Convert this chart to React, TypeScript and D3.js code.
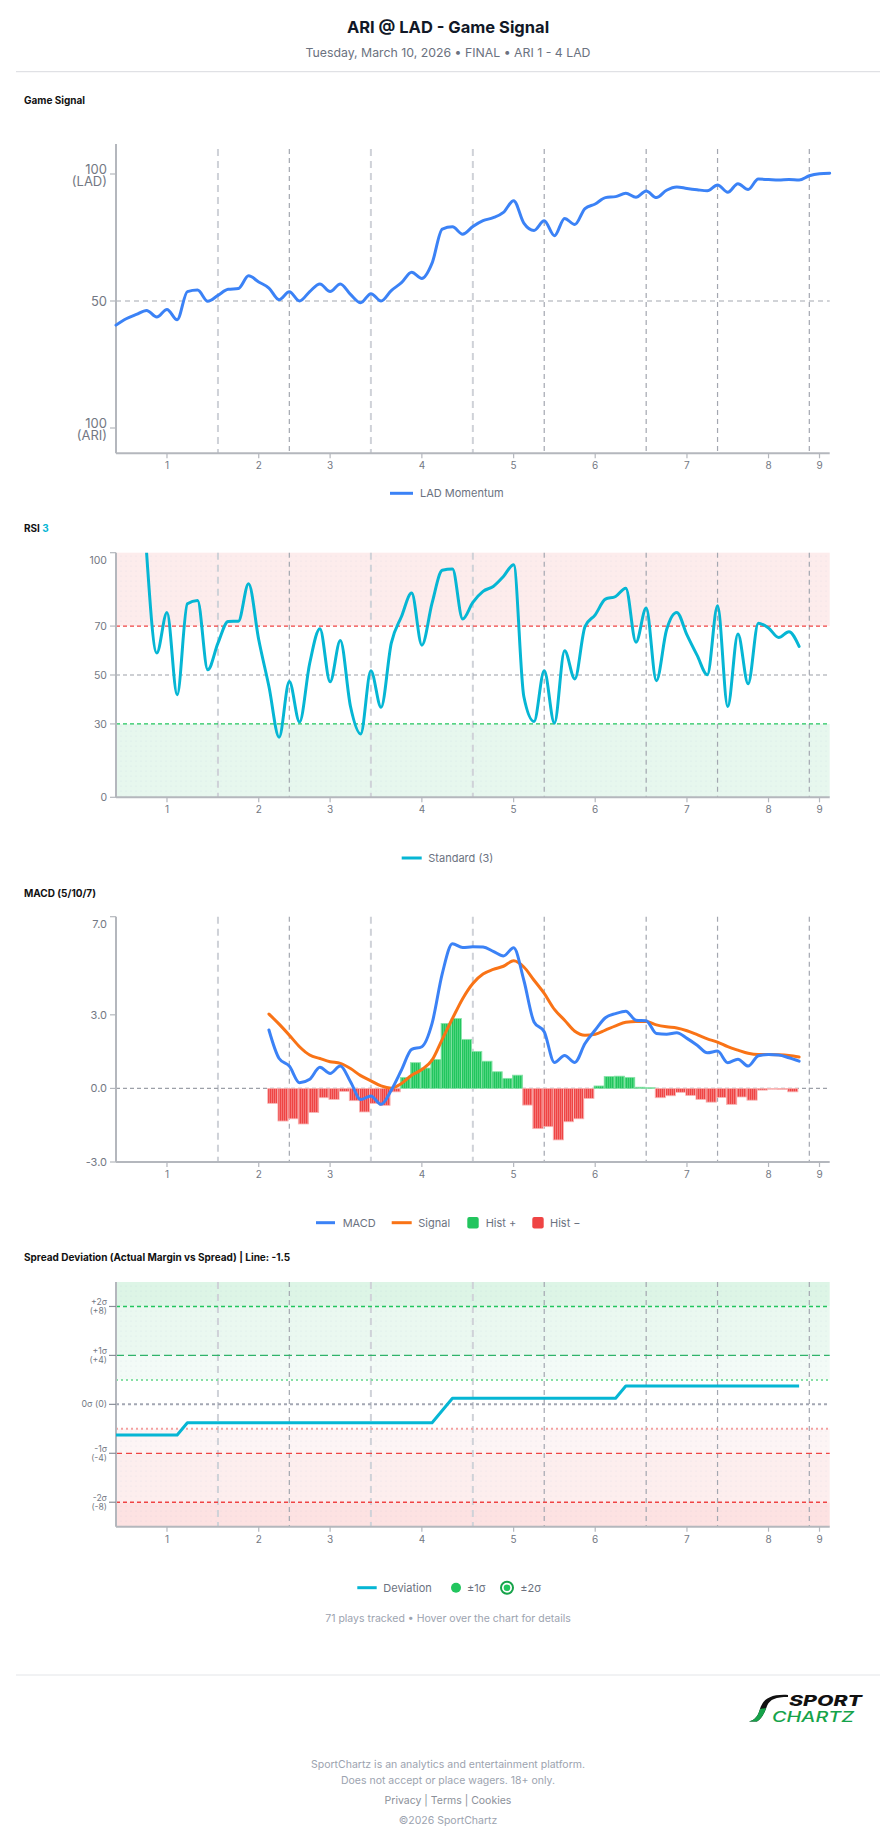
import React from "react";
import * as d3 from "d3";

// ---------- DATA ----------
const playCount = 71;
const inningTicks = [5, 14, 21, 30, 39, 47, 56, 64, 69];
const inningLabels = ["1", "2", "3", "4", "5", "6", "7", "8", "9"];
const inningBreaks = [10, 17, 25, 35, 42, 52, 59, 68];
const lightBreaks = [10, 25, 35];

const momentum = [
  40.5, 43, 44.7, 46.3, 43.7, 46.7, 42.6, 53.7, 54.3, 49.9,
  52.2, 54.6, 54.9, 59.9, 57.5, 55.1, 50.5, 53.6, 50, 53.7,
  56.7, 53.7, 56.7, 52.6, 49.3, 52.9, 50, 54.1, 57.2, 61.3,
  58.9, 64.9, 78.3, 79.2, 76.3, 79.3, 81.6, 82.8, 84.9, 89.5,
  80.7, 77.8, 81.6, 75.7, 82.5, 80.1, 86.4, 88.2, 90.7, 91.1,
  92.4, 90.8, 93.3, 90.7, 93.6, 94.9, 94.3, 93.8, 93.4, 95.7,
  92.8, 96.2, 93.9, 98.0, 97.8, 97.6, 97.8, 97.6, 99.3, 100.1,
  100.3,
];

const rsiStart = 3;
const rsi = [
  100, 59, 75.6, 41.9, 79.1, 80.5, 52.1,
  63, 71.9, 72, 87.3, 64.4, 45.3, 24.6, 47.3, 30.8, 54.8,
  68.9, 47.2, 64.1, 37.1, 25.9, 51.7, 36.8, 63, 73.9, 83.5,
  62.2, 79.4, 92.8, 93.3, 72.9, 79.7, 84.2, 86.2, 90.3, 95.1,
  41.2, 31, 51.7, 30.3, 59.9, 48.4, 69.8, 74.6, 81, 82.1,
  85.5, 63.4, 77.4, 47.7, 68.5, 75.6, 66.4, 58, 50.1, 78.3,
  37.1, 66.8, 46.4, 71.2, 69.2, 65.3, 67.7, 61.7,
];
const rsiTicks = [0, 30, 50, 70, 100];

const macdStart = 15;
const macd = [
  2.38, 1.22, 0.91, 0.23, 0.37,
  0.86, 0.61, 0.91, 0.27, -0.45, -0.31, -0.65, -0.07, 0.75, 1.59,
  1.7, 2.65, 4.68, 5.9, 5.74, 5.77, 5.76, 5.59, 5.4, 5.73,
  4.41, 2.71, 2.31, 1.06, 1.34, 1.06, 1.83, 2.38, 2.88, 3.05,
  3.15, 2.78, 2.76, 2.24, 2.21, 2.27, 2.04, 1.76, 1.45, 1.52,
  1.05, 1.19, 0.91, 1.33, 1.38, 1.36, 1.25, 1.11,
];
const signal = [
  3.03, 2.62, 2.17, 1.7, 1.36,
  1.22, 1.09, 1.02, 0.81, 0.52, 0.31, 0.1, 0.01, 0.2, 0.54,
  0.77, 1.15, 2.0, 2.85, 3.66, 4.28, 4.66, 4.85, 4.98, 5.2,
  4.95, 4.41, 3.87, 3.22, 2.78, 2.33, 2.17, 2.21, 2.38, 2.55,
  2.7, 2.73, 2.73, 2.59, 2.51, 2.46, 2.35, 2.19, 2.02, 1.89,
  1.7, 1.56, 1.43, 1.38, 1.38, 1.37, 1.34, 1.28,
];
const hist = [
  -0.61, -1.33, -1.24, -1.45, -0.98,
  -0.38, -0.45, -0.12, -0.5, -0.96, -0.61, -0.69, -0.14, 0.45, 1.05,
  0.83, 1.18, 2.65, 2.85, 2.0, 1.51, 1.11, 0.68, 0.41, 0.54,
  -0.68, -1.64, -1.56, -2.1, -1.36, -1.24, -0.41, 0.1, 0.49, 0.5,
  0.45, 0.05, 0.03, -0.38, -0.3, -0.16, -0.29, -0.45, -0.56, -0.37,
  -0.65, -0.35, -0.48, -0.07, -0.01, -0.04, -0.14,
];
const macdTicks = [-3, 0, 3, 7];

const deviation = [
  -2.5, -2.5, -2.5, -2.5, -2.5, -2.5, -2.5, -1.5, -1.5, -1.5,
  -1.5, -1.5, -1.5, -1.5, -1.5, -1.5, -1.5, -1.5, -1.5, -1.5,
  -1.5, -1.5, -1.5, -1.5, -1.5, -1.5, -1.5, -1.5, -1.5, -1.5,
  -1.5, -1.5, -0.5, 0.5, 0.5, 0.5, 0.5, 0.5, 0.5, 0.5,
  0.5, 0.5, 0.5, 0.5, 0.5, 0.5, 0.5, 0.5, 0.5, 0.5,
  1.5, 1.5, 1.5, 1.5, 1.5, 1.5, 1.5, 1.5, 1.5, 1.5,
  1.5, 1.5, 1.5, 1.5, 1.5, 1.5, 1.5, 1.5,
];
const sigmaTicks = [8, 4, 0, -4, -8];
const sigmaLabels = [["+2σ", "(+8)"], ["+1σ", "(+4)"], ["0σ (0)"], ["-1σ", "(-4)"], ["-2σ", "(-8)"]];

// ---------- LAYOUT ----------
const W = 896;
const H = 1845;
const L = 116;
const R = 829.7;
const FONT = "Inter, 'Noto Sans', sans-serif";
const AXIS = "#b4b7bd";
const TICK = "#737883";

function Breaks({ x, top, bottom }: any) {
  return (
    <g>
      {inningBreaks.map((b) => {
        const light = lightBreaks.includes(b);
        return (
          <line
            key={b}
            x1={x(b)}
            x2={x(b)}
            y1={top}
            y2={bottom}
            stroke={light ? "#cfd2d8" : "#a3a7b0"}
            strokeWidth={light ? 2 : 1.2}
            strokeDasharray={light ? "7,5" : "5,4"}
          />
        );
      })}
    </g>
  );
}

function XAxis({ x, y }: any) {
  return (
    <g>
      <line x1={L} x2={R} y1={y} y2={y} stroke={AXIS} strokeWidth={2} />
      {inningTicks.map((t, i) => (
        <g key={t}>
          <line x1={x(t)} x2={x(t)} y1={y} y2={y + 5} stroke={AXIS} strokeWidth={1.2} />
          <text x={x(t)} y={y + 16} textAnchor="middle" fontSize={10} fill={TICK} fontFamily={FONT}>
            {inningLabels[i]}
          </text>
        </g>
      ))}
    </g>
  );
}

export default function App() {
  const x = d3.scaleLinear().domain([0, playCount - 1]).range([L, R]);
  const step = x(1) - x(0);

  // Momentum
  const yM = d3.scaleLinear().domain([0, 100]).range([428, 174]);
  const mTop = 144, mBot = 453.3;
  const momLine = d3.line<number>().x((_, i) => x(i)).y((d) => yM(d)).curve(d3.curveMonotoneX);

  // RSI
  const yR = d3.scaleLinear().domain([0, 100]).range([797.3, 552.7]);
  const rsiLine = d3.line<number>().x((_, i) => x(i + rsiStart)).y((d) => yR(d)).curve(d3.curveMonotoneX);

  // MACD
  const yC = d3.scaleLinear().domain([-3, 7]).range([1162, 916.7]);
  const macdLine = d3.line<number>().x((_, i) => x(i + macdStart)).y((d) => yC(d)).curve(d3.curveMonotoneX);

  // Spread
  const yS = d3.scaleLinear().domain([-10, 10]).range([1526.7, 1282]);
  const devLine = d3.line<number>().x((_, i) => x(i)).y((d) => yS(d));

  const bands = [
    { a: 8, b: 10, c: "#ddf5e6" },
    { a: 4, b: 8, c: "#eaf8f0" },
    { a: 2, b: 4, c: "#f3fbf7" },
    { a: -4, b: -2, c: "#fdf5f5" },
    { a: -8, b: -4, c: "#fdeeee" },
    { a: -10, b: -8, c: "#fde2e2" },
  ];

  const sigmaLines = [
    { v: 8, c: "#22c55e", d: "4,3", w: 1.4 },
    { v: 4, c: "#2fb36a", d: "8,4", w: 1.4 },
    { v: 2, c: "#86e0a5", d: "2,3", w: 2 },
    { v: 0, c: "#a3a7b3", d: "3,3", w: 2 },
    { v: -2, c: "#f3a0a0", d: "2,3", w: 2 },
    { v: -4, c: "#ef4444", d: "6,4", w: 1.3 },
    { v: -8, c: "#ef4444", d: "4,3", w: 1.3 },
  ];

  return (
    <div style={{ position: "absolute", left: 0, top: 0, width: W, height: H, background: "#fff" }}>
      <svg width={W} height={H} style={{ display: "block" }} fontFamily={FONT}>
        <defs>
          <pattern id="dots" width="5" height="5" patternUnits="userSpaceOnUse">
            <circle cx="1" cy="1" r="0.5" fill="rgba(120,150,190,0.18)" />
          </pattern>
          <pattern id="hpos" width="2" height="4" patternUnits="userSpaceOnUse">
            <rect width="2" height="4" fill="#22c55e" />
            <rect x="1.3" width="0.7" height="4" fill="#5fdc8c" />
          </pattern>
          <pattern id="hneg" width="2" height="4" patternUnits="userSpaceOnUse">
            <rect width="2" height="4" fill="#ef4444" />
            <rect x="1.3" width="0.7" height="4" fill="#f78b8b" />
          </pattern>
          <clipPath id="rsiClip">
            <rect x={L} y={552.7} width={R - L} height={797.3 - 552.7} />
          </clipPath>
        </defs>

        {/* Header */}
        <text x={448} y={33} textAnchor="middle" fontSize={16.5} fontWeight={700} fill="#111827">
          ARI @ LAD - Game Signal
        </text>
        <text x={448} y={57} textAnchor="middle" fontSize={12.3} fill="#6b7280">
          Tuesday, March 10, 2026 • FINAL • ARI 1 - 4 LAD
        </text>
        <line x1={16} x2={880} y1={71.7} y2={71.7} stroke="#d9dbdf" strokeWidth={1} />

        {/* ===== Game Signal ===== */}
        <text x={24} y={103.5} fontSize={10} fontWeight={700} fill="#111">Game Signal</text>
        <Breaks x={x} top={149} bottom={mBot} />
        <line x1={L} x2={R} y1={yM(50)} y2={yM(50)} stroke="#a3a7b0" strokeWidth={1.2} strokeDasharray="5,4" />
        <line x1={L} x2={L} y1={mTop} y2={mBot} stroke={AXIS} strokeWidth={2} />
        {[100, 50, 0].map((v) => (
          <line key={v} x1={L - 6} x2={L} y1={yM(v)} y2={yM(v)} stroke={AXIS} strokeWidth={1.2} />
        ))}
        <text x={107} y={yM(100) - 0.5} textAnchor="end" fontSize={13} fill={TICK}>100</text>
        <text x={107} y={yM(100) + 12} textAnchor="end" fontSize={13} fill={TICK}>(LAD)</text>
        <text x={107} y={yM(50) + 5} textAnchor="end" fontSize={13} fill={TICK}>50</text>
        <text x={107} y={yM(0) - 0.5} textAnchor="end" fontSize={13} fill={TICK}>100</text>
        <text x={107} y={yM(0) + 12} textAnchor="end" fontSize={13} fill={TICK}>(ARI)</text>
        <XAxis x={x} y={mBot} />
        <path d={momLine(momentum) || ""} fill="none" stroke="#3b82f6" strokeWidth={3} strokeLinejoin="round" strokeLinecap="round" />
        <line x1={390} x2={413} y1={493.3} y2={493.3} stroke="#3b82f6" strokeWidth={3} />
        <text x={420} y={497.2} fontSize={11} fill="#6b7280">LAD Momentum</text>

        {/* ===== RSI ===== */}
        <text x={24} y={531.5} fontSize={10} fontWeight={700} fill="#111">
          RSI <tspan fill="#06b6d4">3</tspan>
        </text>
        <rect x={L} y={yR(100)} width={R - L} height={yR(70) - yR(100)} fill="#fdecec" />
        <rect x={L} y={yR(30)} width={R - L} height={yR(0) - yR(30)} fill="#e7f7ee" />
        <rect x={L} y={yR(100)} width={R - L} height={yR(70) - yR(100)} fill="url(#dots)" />
        <rect x={L} y={yR(30)} width={R - L} height={yR(0) - yR(30)} fill="url(#dots)" />
        <Breaks x={x} top={yR(100)} bottom={yR(0)} />
        <line x1={L} x2={R} y1={yR(70)} y2={yR(70)} stroke="#ef4444" strokeWidth={1.3} strokeDasharray="4,3" />
        <line x1={L} x2={R} y1={yR(50)} y2={yR(50)} stroke="#9ca0a8" strokeWidth={1.2} strokeDasharray="4,3" />
        <line x1={L} x2={R} y1={yR(30)} y2={yR(30)} stroke="#22c55e" strokeWidth={1.3} strokeDasharray="4,3" />
        <line x1={L} x2={L} y1={yR(100)} y2={yR(0)} stroke={AXIS} strokeWidth={2} />
        {rsiTicks.map((v) => (
          <g key={v}>
            <line x1={L - 6} x2={L} y1={yR(v)} y2={yR(v)} stroke={AXIS} strokeWidth={1.2} />
            <text x={107} y={v === 100 ? yR(v) + 11.5 : yR(v) + 4} textAnchor="end" fontSize={10.5} fill={TICK}>
              {v}
            </text>
          </g>
        ))}
        <XAxis x={x} y={yR(0)} />
        <path d={rsiLine(rsi) || ""} fill="none" stroke="#06b6d4" strokeWidth={3} strokeLinejoin="round" strokeLinecap="round" clipPath="url(#rsiClip)" />
        <line x1={401.7} x2={421.7} y1={858} y2={858} stroke="#06b6d4" strokeWidth={3} />
        <text x={428.3} y={862} fontSize={11} fill="#6b7280">Standard (3)</text>

        {/* ===== MACD ===== */}
        <text x={24} y={896.5} fontSize={10} fontWeight={700} fill="#111">MACD (5/10/7)</text>
        <Breaks x={x} top={yC(7)} bottom={yC(-3)} />
        <line x1={L} x2={R} y1={yC(0)} y2={yC(0)} stroke="#9ca0a8" strokeWidth={1.2} strokeDasharray="4,3" />
        {hist.map((v, i) => {
          const xi = x(i + macdStart) - 1.2;
          const y0 = yC(0);
          const yv = yC(v);
          return (
            <rect
              key={i}
              x={xi}
              y={Math.min(y0, yv)}
              width={step}
              height={Math.max(0.8, Math.abs(yv - y0))}
              fill={v >= 0 ? "url(#hpos)" : "url(#hneg)"}
              stroke={v >= 0 ? "#8be3aa" : "#f8b4b4"}
              strokeWidth={0.8}
            />
          );
        })}
        <line x1={L} x2={L} y1={yC(7)} y2={yC(-3)} stroke={AXIS} strokeWidth={2} />
        {macdTicks.map((v) => (
          <g key={v}>
            <line x1={L - 6} x2={L} y1={yC(v)} y2={yC(v)} stroke={AXIS} strokeWidth={1.2} />
            <text x={107} y={v === 7 ? yC(v) + 11.5 : yC(v) + 4} textAnchor="end" fontSize={11} fill={TICK}>
              {v.toFixed(1)}
            </text>
          </g>
        ))}
        <XAxis x={x} y={yC(-3)} />
        <path d={macdLine(signal) || ""} fill="none" stroke="#f97316" strokeWidth={3} strokeLinejoin="round" strokeLinecap="round" />
        <path d={macdLine(macd) || ""} fill="none" stroke="#3b82f6" strokeWidth={3} strokeLinejoin="round" strokeLinecap="round" />
        <line x1={316} x2={335} y1={1222.7} y2={1222.7} stroke="#3b82f6" strokeWidth={3} />
        <text x={342.7} y={1226.6} fontSize={11} fill="#6b7280">MACD</text>
        <line x1={391.7} x2={411.7} y1={1222.7} y2={1222.7} stroke="#f97316" strokeWidth={3} />
        <text x={418.3} y={1226.6} fontSize={11} fill="#6b7280">Signal</text>
        <rect x={467.3} y={1217} width={11.4} height={11.4} rx={2} fill="#22c55e" />
        <text x={485.7} y={1226.6} fontSize={11} fill="#6b7280">Hist +</text>
        <rect x={532.3} y={1217} width={11.4} height={11.4} rx={2} fill="#ef4444" />
        <text x={550} y={1226.6} fontSize={11} fill="#6b7280">Hist −</text>

        {/* ===== Spread Deviation ===== */}
        <text x={24} y={1261} fontSize={10} fontWeight={700} fill="#111">
          Spread Deviation (Actual Margin vs Spread) | Line: -1.5
        </text>
        {bands.map((b, i) => (
          <g key={i}>
            <rect x={L} y={yS(b.b)} width={R - L} height={yS(b.a) - yS(b.b)} fill={b.c} />
            <rect x={L} y={yS(b.b)} width={R - L} height={yS(b.a) - yS(b.b)} fill="url(#dots)" />
          </g>
        ))}
        <Breaks x={x} top={yS(10)} bottom={yS(-10)} />
        {sigmaLines.map((s) => (
          <line key={s.v} x1={L} x2={R} y1={yS(s.v)} y2={yS(s.v)} stroke={s.c} strokeWidth={s.w} strokeDasharray={s.d} />
        ))}
        <line x1={L} x2={L} y1={yS(10)} y2={yS(-10)} stroke={AXIS} strokeWidth={2} />
        {sigmaTicks.map((v, i) => (
          <g key={v}>
            <line x1={L - 7} x2={L} y1={yS(v)} y2={yS(v)} stroke="#8a8f99" strokeWidth={1.2} />
            {sigmaLabels[i].length === 1 ? (
              <text x={107} y={yS(v) + 3} textAnchor="end" fontSize={8.8} fill={TICK}>{sigmaLabels[i][0]}</text>
            ) : (
              <g>
                <text x={107} y={yS(v) - 1} textAnchor="end" fontSize={8.6} fill={TICK}>{sigmaLabels[i][0]}</text>
                <text x={107} y={yS(v) + 8} textAnchor="end" fontSize={8.6} fill={TICK}>{sigmaLabels[i][1]}</text>
              </g>
            )}
          </g>
        ))}
        <XAxis x={x} y={yS(-10)} />
        <path d={devLine(deviation) || ""} fill="none" stroke="#06b6d4" strokeWidth={3} strokeLinejoin="round" />
        <line x1={357.3} x2={376.7} y1={1587.7} y2={1587.7} stroke="#06b6d4" strokeWidth={3} />
        <text x={383.3} y={1591.6} fontSize={11} fill="#6b7280">Deviation</text>
        <circle cx={456} cy={1587.7} r={5} fill="#22c55e" />
        <text x={467} y={1591.6} fontSize={11} fill="#6b7280">±1σ</text>
        <circle cx={507} cy={1587.7} r={6} fill="#fff" stroke="#16a34a" strokeWidth={2} />
        <circle cx={507} cy={1587.7} r={3.3} fill="#22c55e" />
        <text x={520.3} y={1591.6} fontSize={11} fill="#6b7280">±2σ</text>

        <text x={448} y={1622} textAnchor="middle" fontSize={10.5} fill="#9ca3af">
          71 plays tracked • Hover over the chart for details
        </text>

        {/* ===== Footer ===== */}
        <line x1={16} x2={880} y1={1675} y2={1675} stroke="#e3e5e8" strokeWidth={1} />
        <g>
          <path d="M 788 1695 C 771 1694, 763 1699, 760 1709 C 758 1716, 755 1720, 749 1721.5 L 757 1721.5 C 762 1718, 765 1712, 767 1706 C 770 1699, 776 1697, 788 1697 Z" fill="#111" />
          <path d="M 760 1709 C 758 1716, 755 1720, 749 1721.5 L 757 1721.5 C 762 1718, 764.5 1713, 766 1708 Z" fill="#16a34a" />
          <text x={789} y={1706} fontSize={14.5} fontWeight={800} fontStyle="italic" fill="#111" textLength={73} lengthAdjust="spacingAndGlyphs">SPORT</text>
          <text x={772} y={1722} fontSize={14.5} fontWeight={500} fontStyle="italic" fill="#16a34a" textLength={82} lengthAdjust="spacingAndGlyphs">CHARTZ</text>
        </g>
        <text x={448} y={1767.5} textAnchor="middle" fontSize={10.5} fill="#9ca3af">
          SportChartz is an analytics and entertainment platform.
        </text>
        <text x={448} y={1783.5} textAnchor="middle" fontSize={10.5} fill="#9ca3af">
          Does not accept or place wagers. 18+ only.
        </text>
        <text x={448} y={1803.5} textAnchor="middle" fontSize={10.5} fill="#8b9099">
          Privacy | Terms | Cookies
        </text>
        <text x={448} y={1823.5} textAnchor="middle" fontSize={10.5} fill="#9ca3af">
          ©2026 SportChartz
        </text>
      </svg>
    </div>
  );
}
